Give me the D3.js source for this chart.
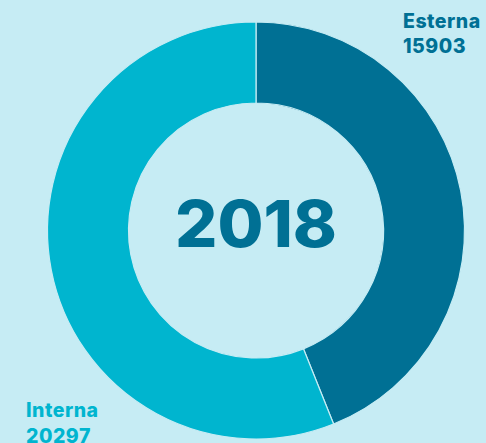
<!DOCTYPE html>
<html>
<head>
<meta charset="utf-8">
<script src="https://cdn.jsdelivr.net/npm/d3@7"></script>
<style>
  html, body { margin: 0; padding: 0; background: #c6ecf4; }
  svg { display: block; }
  text { font-family: Inter, Lato, "Open Sans", sans-serif; font-weight: 800; }
</style>
</head>
<body>
<svg id="chart" width="486" height="443"></svg>
<script>
// Ripartizione 2018: Esterna / Interna
const categories = ["Esterna", "Interna"];
const values = [15903, 20297];
const colors = ["#007094", "#00b5cf"];
const yearLabel = "2018";

const width = 486, height = 443;
const cx = 256, cy = 230.5;
const outerR = 208.5, innerR = 127.5;

const svg = d3.select("#chart");

const data = categories.map((c, i) => ({ name: c, value: values[i], color: colors[i] }));

const pie = d3.pie().sort(null).value(d => d.value);
const arc = d3.arc().innerRadius(innerR).outerRadius(outerR);

const g = svg.append("g").attr("transform", `translate(${cx},${cy})`);

g.selectAll("path")
  .data(pie(data))
  .join("path")
  .attr("d", arc)
  .attr("fill", d => d.data.color)
  .attr("stroke", "#c6ecf4")
  .attr("stroke-width", 1.2);

// anno al centro
g.append("text")
  .attr("x", 0)
  .attr("y", 16.5)
  .attr("text-anchor", "middle")
  .attr("font-size", 64)
  .attr("textLength", 162)
  .attr("lengthAdjust", "spacingAndGlyphs")
  .attr("fill", colors[0])
  .text(yearLabel);

// etichette delle serie
const labels = [
  { x: 403, y: 27.5, color: colors[0] },
  { x: 26, y: 417, color: colors[1] }
];

data.forEach((d, i) => {
  const t = svg.append("text")
    .attr("x", labels[i].x)
    .attr("y", labels[i].y)
    .attr("font-size", 19.5)
    .attr("letter-spacing", 0.5)
    .attr("fill", labels[i].color);
  t.append("tspan").attr("x", labels[i].x).text(d.name);
  t.append("tspan").attr("x", labels[i].x).attr("dy", 25.5).text(d.value);
});
</script>
</body>
</html>
